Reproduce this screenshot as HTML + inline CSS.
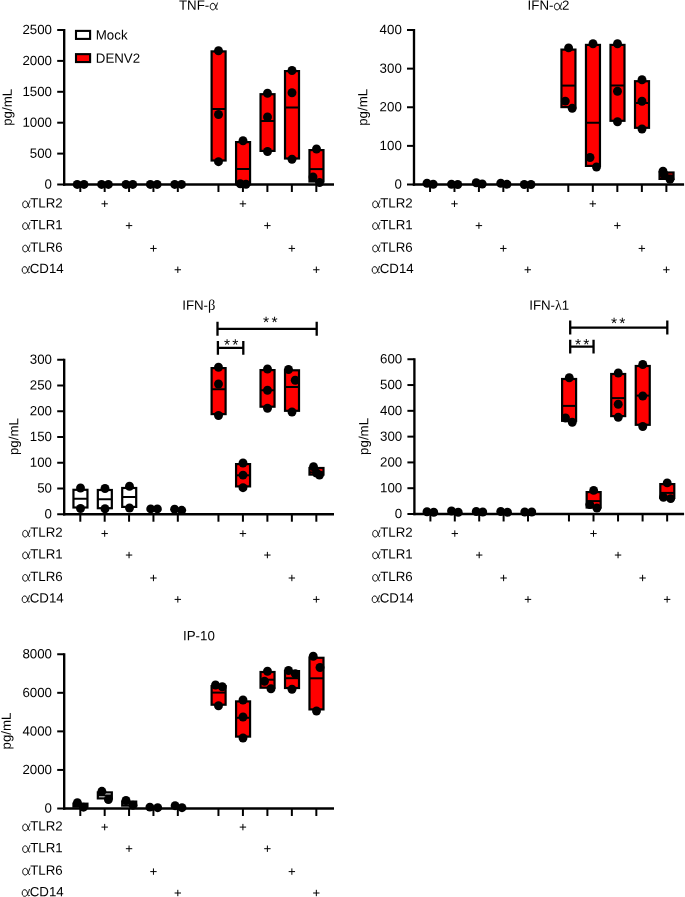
<!DOCTYPE html>
<html><head><meta charset="utf-8"><title>Figure</title>
<style>
html,body{margin:0;padding:0;background:#fff;}
body{width:685px;height:897px;overflow:hidden;font-family:"Liberation Sans", sans-serif;}
svg{display:block;will-change:transform;}
text{fill:#000;}
</style></head><body>
<svg width="685" height="897" viewBox="0 0 685 897">
<rect width="685" height="897" fill="#fff"/>
<line x1="64.2" y1="29.0" x2="64.2" y2="185.675" stroke="#000" stroke-width="2.35"/>
<line x1="63.025000000000006" y1="184.5" x2="334.0" y2="184.5" stroke="#000" stroke-width="2.35"/>
<line x1="57.2" y1="184.5" x2="64.2" y2="184.5" stroke="#000" stroke-width="2.0"/>
<text x="52.00" y="188.60" transform="rotate(0.03 52.00 188.60)" font-size="13.3" font-family='"Liberation Sans", sans-serif' text-anchor="end">0</text>
<line x1="57.2" y1="153.6" x2="64.2" y2="153.6" stroke="#000" stroke-width="2.0"/>
<text x="52.00" y="157.70" transform="rotate(0.03 52.00 157.70)" font-size="13.3" font-family='"Liberation Sans", sans-serif' text-anchor="end">500</text>
<line x1="57.2" y1="122.7" x2="64.2" y2="122.7" stroke="#000" stroke-width="2.0"/>
<text x="52.00" y="126.80" transform="rotate(0.03 52.00 126.80)" font-size="13.3" font-family='"Liberation Sans", sans-serif' text-anchor="end">1000</text>
<line x1="57.2" y1="91.8" x2="64.2" y2="91.8" stroke="#000" stroke-width="2.0"/>
<text x="52.00" y="95.90" transform="rotate(0.03 52.00 95.90)" font-size="13.3" font-family='"Liberation Sans", sans-serif' text-anchor="end">1500</text>
<line x1="57.2" y1="60.900000000000006" x2="64.2" y2="60.900000000000006" stroke="#000" stroke-width="2.0"/>
<text x="52.00" y="65.00" transform="rotate(0.03 52.00 65.00)" font-size="13.3" font-family='"Liberation Sans", sans-serif' text-anchor="end">2000</text>
<line x1="57.2" y1="30.0" x2="64.2" y2="30.0" stroke="#000" stroke-width="2.0"/>
<text x="52.00" y="34.10" transform="rotate(0.03 52.00 34.10)" font-size="13.3" font-family='"Liberation Sans", sans-serif' text-anchor="end">2500</text>
<line x1="80.3" y1="184.5" x2="80.3" y2="191.97500000000002" stroke="#000" stroke-width="2.0"/>
<line x1="104.67999999999999" y1="184.5" x2="104.67999999999999" y2="191.97500000000002" stroke="#000" stroke-width="2.0"/>
<line x1="129.06" y1="184.5" x2="129.06" y2="191.97500000000002" stroke="#000" stroke-width="2.0"/>
<line x1="153.44" y1="184.5" x2="153.44" y2="191.97500000000002" stroke="#000" stroke-width="2.0"/>
<line x1="177.82" y1="184.5" x2="177.82" y2="191.97500000000002" stroke="#000" stroke-width="2.0"/>
<line x1="218.45" y1="184.5" x2="218.45" y2="191.97500000000002" stroke="#000" stroke-width="2.0"/>
<line x1="242.92" y1="184.5" x2="242.92" y2="191.97500000000002" stroke="#000" stroke-width="2.0"/>
<line x1="267.39" y1="184.5" x2="267.39" y2="191.97500000000002" stroke="#000" stroke-width="2.0"/>
<line x1="291.86" y1="184.5" x2="291.86" y2="191.97500000000002" stroke="#000" stroke-width="2.0"/>
<line x1="316.33" y1="184.5" x2="316.33" y2="191.97500000000002" stroke="#000" stroke-width="2.0"/>
<text x="179.00" y="9.70" transform="rotate(0.03 179.00 9.70)" font-size="13.3" font-family='"Liberation Sans", sans-serif'>TNF-</text>
<path transform="translate(209.78125,9.7) scale(0.95,0.94)" d="M8.1,-7.2 C7.3,-4.5 5.8,0.2 3.2,0.2 C1.2,0.2 0.5,-1.6 0.5,-3.4 C0.5,-5.4 1.6,-6.9 3.4,-6.9 C5.4,-6.9 6.0,-3.5 6.5,-1.6 C6.8,-0.4 7.3,0.3 8.2,-0.6" fill="none" stroke="#000" stroke-width="1.0" stroke-linecap="round" stroke-linejoin="round"/>
<text transform="translate(11.8,107.3) rotate(-89.97)" font-size="13.3" font-family='"Liberation Sans", sans-serif' text-anchor="middle">pg/mL</text>
<path transform="translate(22.2,207.55) scale(0.95,0.94)" d="M8.1,-7.2 C7.3,-4.5 5.8,0.2 3.2,0.2 C1.2,0.2 0.5,-1.6 0.5,-3.4 C0.5,-5.4 1.6,-6.9 3.4,-6.9 C5.4,-6.9 6.0,-3.5 6.5,-1.6 C6.8,-0.4 7.3,0.3 8.2,-0.6" fill="none" stroke="#000" stroke-width="1.0" stroke-linecap="round" stroke-linejoin="round"/><text x="30.20" y="207.55" transform="rotate(0.03 30.20 207.55)" font-size="13.3" font-family='"Liberation Sans", sans-serif'>TLR2</text>
<path d="M101.47999999999999 203.8H107.88M104.67999999999999 200.60000000000002V207.0" stroke="#000" stroke-width="1.0" fill="none"/>
<path d="M239.72 203.8H246.11999999999998M242.92 200.60000000000002V207.0" stroke="#000" stroke-width="1.0" fill="none"/>
<path transform="translate(22.2,229.25) scale(0.95,0.94)" d="M8.1,-7.2 C7.3,-4.5 5.8,0.2 3.2,0.2 C1.2,0.2 0.5,-1.6 0.5,-3.4 C0.5,-5.4 1.6,-6.9 3.4,-6.9 C5.4,-6.9 6.0,-3.5 6.5,-1.6 C6.8,-0.4 7.3,0.3 8.2,-0.6" fill="none" stroke="#000" stroke-width="1.0" stroke-linecap="round" stroke-linejoin="round"/><text x="30.20" y="229.25" transform="rotate(0.03 30.20 229.25)" font-size="13.3" font-family='"Liberation Sans", sans-serif'>TLR1</text>
<path d="M125.86 225.6H132.26M129.06 222.4V228.79999999999998" stroke="#000" stroke-width="1.0" fill="none"/>
<path d="M264.19 225.6H270.59M267.39 222.4V228.79999999999998" stroke="#000" stroke-width="1.0" fill="none"/>
<path transform="translate(22.2,251.7) scale(0.95,0.94)" d="M8.1,-7.2 C7.3,-4.5 5.8,0.2 3.2,0.2 C1.2,0.2 0.5,-1.6 0.5,-3.4 C0.5,-5.4 1.6,-6.9 3.4,-6.9 C5.4,-6.9 6.0,-3.5 6.5,-1.6 C6.8,-0.4 7.3,0.3 8.2,-0.6" fill="none" stroke="#000" stroke-width="1.0" stroke-linecap="round" stroke-linejoin="round"/><text x="30.20" y="251.70" transform="rotate(0.03 30.20 251.70)" font-size="13.3" font-family='"Liberation Sans", sans-serif'>TLR6</text>
<path d="M150.24 248.45H156.64M153.44 245.25V251.64999999999998" stroke="#000" stroke-width="1.0" fill="none"/>
<path d="M288.66 248.45H295.06M291.86 245.25V251.64999999999998" stroke="#000" stroke-width="1.0" fill="none"/>
<path transform="translate(21.7,273.1) scale(0.95,0.94)" d="M8.1,-7.2 C7.3,-4.5 5.8,0.2 3.2,0.2 C1.2,0.2 0.5,-1.6 0.5,-3.4 C0.5,-5.4 1.6,-6.9 3.4,-6.9 C5.4,-6.9 6.0,-3.5 6.5,-1.6 C6.8,-0.4 7.3,0.3 8.2,-0.6" fill="none" stroke="#000" stroke-width="1.0" stroke-linecap="round" stroke-linejoin="round"/><text x="29.70" y="273.10" transform="rotate(0.03 29.70 273.10)" font-size="13.3" font-family='"Liberation Sans", sans-serif'>CD14</text>
<path d="M174.62 269.75H181.01999999999998M177.82 266.55V272.95" stroke="#000" stroke-width="1.0" fill="none"/>
<path d="M313.13 269.75H319.53M316.33 266.55V272.95" stroke="#000" stroke-width="1.0" fill="none"/>
<rect x="211.6" y="51.40" width="14.0" height="109.10" fill="#ff0000" stroke="#000" stroke-width="2.2"/>
<line x1="211.6" y1="109" x2="225.6" y2="109" stroke="#000" stroke-width="2.0"/>
<rect x="236.07" y="142.10" width="14.0" height="42.20" fill="#ff0000" stroke="#000" stroke-width="2.2"/>
<line x1="236.07" y1="169" x2="250.07" y2="169" stroke="#000" stroke-width="2.0"/>
<rect x="260.53999999999996" y="94.20" width="14.0" height="56.70" fill="#ff0000" stroke="#000" stroke-width="2.2"/>
<line x1="260.53999999999996" y1="121" x2="274.53999999999996" y2="121" stroke="#000" stroke-width="2.0"/>
<rect x="285.01" y="71.10" width="14.0" height="87.40" fill="#ff0000" stroke="#000" stroke-width="2.2"/>
<line x1="285.01" y1="107.5" x2="299.01" y2="107.5" stroke="#000" stroke-width="2.0"/>
<rect x="309.47999999999996" y="150.10" width="14.0" height="31.40" fill="#ff0000" stroke="#000" stroke-width="2.2"/>
<line x1="309.47999999999996" y1="169.1" x2="323.47999999999996" y2="169.1" stroke="#000" stroke-width="2.0"/>
<circle cx="77.2" cy="184.45" r="4.45" fill="#000"/>
<circle cx="84.0" cy="184.45" r="4.45" fill="#000"/>
<circle cx="101.58" cy="184.45" r="4.45" fill="#000"/>
<circle cx="108.38" cy="184.45" r="4.45" fill="#000"/>
<circle cx="125.96000000000001" cy="184.45" r="4.45" fill="#000"/>
<circle cx="132.76" cy="184.45" r="4.45" fill="#000"/>
<circle cx="150.34" cy="184.45" r="4.45" fill="#000"/>
<circle cx="157.14" cy="184.45" r="4.45" fill="#000"/>
<circle cx="174.72" cy="184.45" r="4.45" fill="#000"/>
<circle cx="181.51999999999998" cy="184.45" r="4.45" fill="#000"/>
<circle cx="218.5" cy="50.75" r="4.45" fill="#000"/>
<circle cx="218.5" cy="114.5" r="4.45" fill="#000"/>
<circle cx="218.5" cy="161.7" r="4.45" fill="#000"/>
<circle cx="243" cy="140.75" r="4.45" fill="#000"/>
<circle cx="240.25" cy="183.75" r="4.45" fill="#000"/>
<circle cx="246" cy="184.25" r="4.45" fill="#000"/>
<circle cx="267.5" cy="93.25" r="4.45" fill="#000"/>
<circle cx="267.5" cy="117" r="4.45" fill="#000"/>
<circle cx="267.5" cy="151.5" r="4.45" fill="#000"/>
<circle cx="292" cy="70.5" r="4.45" fill="#000"/>
<circle cx="292" cy="92.75" r="4.45" fill="#000"/>
<circle cx="292" cy="159.25" r="4.45" fill="#000"/>
<circle cx="316.5" cy="149" r="4.45" fill="#000"/>
<circle cx="313" cy="177" r="4.45" fill="#000"/>
<circle cx="319.5" cy="182.5" r="4.45" fill="#000"/>
<rect x="76.0" y="30.9" width="14.1" height="8.0" fill="#fff" stroke="#000" stroke-width="2.1"/>
<text x="95.80" y="39.50" transform="rotate(0.03 95.80 39.50)" font-size="13.3" font-family='"Liberation Sans", sans-serif'>Mock</text>
<rect x="76.0" y="54.15" width="14.1" height="7.9" fill="#ff0000" stroke="#000" stroke-width="2.1"/>
<text x="95.80" y="62.80" transform="rotate(0.03 95.80 62.80)" font-size="13.3" font-family='"Liberation Sans", sans-serif'>DENV2</text>
<line x1="414.0" y1="29.0" x2="414.0" y2="185.675" stroke="#000" stroke-width="2.35"/>
<line x1="412.825" y1="184.5" x2="684.1" y2="184.5" stroke="#000" stroke-width="2.35"/>
<line x1="407.0" y1="184.5" x2="414.0" y2="184.5" stroke="#000" stroke-width="2.0"/>
<text x="401.80" y="188.60" transform="rotate(0.03 401.80 188.60)" font-size="13.3" font-family='"Liberation Sans", sans-serif' text-anchor="end">0</text>
<line x1="407.0" y1="145.875" x2="414.0" y2="145.875" stroke="#000" stroke-width="2.0"/>
<text x="401.80" y="149.97" transform="rotate(0.03 401.80 149.97)" font-size="13.3" font-family='"Liberation Sans", sans-serif' text-anchor="end">100</text>
<line x1="407.0" y1="107.25" x2="414.0" y2="107.25" stroke="#000" stroke-width="2.0"/>
<text x="401.80" y="111.35" transform="rotate(0.03 401.80 111.35)" font-size="13.3" font-family='"Liberation Sans", sans-serif' text-anchor="end">200</text>
<line x1="407.0" y1="68.625" x2="414.0" y2="68.625" stroke="#000" stroke-width="2.0"/>
<text x="401.80" y="72.72" transform="rotate(0.03 401.80 72.72)" font-size="13.3" font-family='"Liberation Sans", sans-serif' text-anchor="end">300</text>
<line x1="407.0" y1="30.0" x2="414.0" y2="30.0" stroke="#000" stroke-width="2.0"/>
<text x="401.80" y="34.10" transform="rotate(0.03 401.80 34.10)" font-size="13.3" font-family='"Liberation Sans", sans-serif' text-anchor="end">400</text>
<line x1="430.05" y1="184.5" x2="430.05" y2="191.97500000000002" stroke="#000" stroke-width="2.0"/>
<line x1="454.48" y1="184.5" x2="454.48" y2="191.97500000000002" stroke="#000" stroke-width="2.0"/>
<line x1="478.91" y1="184.5" x2="478.91" y2="191.97500000000002" stroke="#000" stroke-width="2.0"/>
<line x1="503.34000000000003" y1="184.5" x2="503.34000000000003" y2="191.97500000000002" stroke="#000" stroke-width="2.0"/>
<line x1="527.77" y1="184.5" x2="527.77" y2="191.97500000000002" stroke="#000" stroke-width="2.0"/>
<line x1="568.3" y1="184.5" x2="568.3" y2="191.97500000000002" stroke="#000" stroke-width="2.0"/>
<line x1="592.8199999999999" y1="184.5" x2="592.8199999999999" y2="191.97500000000002" stroke="#000" stroke-width="2.0"/>
<line x1="617.3399999999999" y1="184.5" x2="617.3399999999999" y2="191.97500000000002" stroke="#000" stroke-width="2.0"/>
<line x1="641.8599999999999" y1="184.5" x2="641.8599999999999" y2="191.97500000000002" stroke="#000" stroke-width="2.0"/>
<line x1="666.38" y1="184.5" x2="666.38" y2="191.97500000000002" stroke="#000" stroke-width="2.0"/>
<text x="527.60" y="9.70" transform="rotate(0.03 527.60 9.70)" font-size="13.3" font-family='"Liberation Sans", sans-serif'>IFN-</text>
<path transform="translate(553.953125,9.7) scale(0.95,0.94)" d="M8.1,-7.2 C7.3,-4.5 5.8,0.2 3.2,0.2 C1.2,0.2 0.5,-1.6 0.5,-3.4 C0.5,-5.4 1.6,-6.9 3.4,-6.9 C5.4,-6.9 6.0,-3.5 6.5,-1.6 C6.8,-0.4 7.3,0.3 8.2,-0.6" fill="none" stroke="#000" stroke-width="1.0" stroke-linecap="round" stroke-linejoin="round"/>
<text x="562.05" y="9.70" transform="rotate(0.03 562.05 9.70)" font-size="13.3" font-family='"Liberation Sans", sans-serif'>2</text>
<text transform="translate(367.2,107.3) rotate(-89.97)" font-size="13.3" font-family='"Liberation Sans", sans-serif' text-anchor="middle">pg/mL</text>
<path transform="translate(372.2,207.55) scale(0.95,0.94)" d="M8.1,-7.2 C7.3,-4.5 5.8,0.2 3.2,0.2 C1.2,0.2 0.5,-1.6 0.5,-3.4 C0.5,-5.4 1.6,-6.9 3.4,-6.9 C5.4,-6.9 6.0,-3.5 6.5,-1.6 C6.8,-0.4 7.3,0.3 8.2,-0.6" fill="none" stroke="#000" stroke-width="1.0" stroke-linecap="round" stroke-linejoin="round"/><text x="380.20" y="207.55" transform="rotate(0.03 380.20 207.55)" font-size="13.3" font-family='"Liberation Sans", sans-serif'>TLR2</text>
<path d="M451.28000000000003 203.8H457.68M454.48 200.60000000000002V207.0" stroke="#000" stroke-width="1.0" fill="none"/>
<path d="M589.6199999999999 203.8H596.02M592.8199999999999 200.60000000000002V207.0" stroke="#000" stroke-width="1.0" fill="none"/>
<path transform="translate(372.2,229.25) scale(0.95,0.94)" d="M8.1,-7.2 C7.3,-4.5 5.8,0.2 3.2,0.2 C1.2,0.2 0.5,-1.6 0.5,-3.4 C0.5,-5.4 1.6,-6.9 3.4,-6.9 C5.4,-6.9 6.0,-3.5 6.5,-1.6 C6.8,-0.4 7.3,0.3 8.2,-0.6" fill="none" stroke="#000" stroke-width="1.0" stroke-linecap="round" stroke-linejoin="round"/><text x="380.20" y="229.25" transform="rotate(0.03 380.20 229.25)" font-size="13.3" font-family='"Liberation Sans", sans-serif'>TLR1</text>
<path d="M475.71000000000004 225.6H482.11M478.91 222.4V228.79999999999998" stroke="#000" stroke-width="1.0" fill="none"/>
<path d="M614.1399999999999 225.6H620.54M617.3399999999999 222.4V228.79999999999998" stroke="#000" stroke-width="1.0" fill="none"/>
<path transform="translate(372.2,251.7) scale(0.95,0.94)" d="M8.1,-7.2 C7.3,-4.5 5.8,0.2 3.2,0.2 C1.2,0.2 0.5,-1.6 0.5,-3.4 C0.5,-5.4 1.6,-6.9 3.4,-6.9 C5.4,-6.9 6.0,-3.5 6.5,-1.6 C6.8,-0.4 7.3,0.3 8.2,-0.6" fill="none" stroke="#000" stroke-width="1.0" stroke-linecap="round" stroke-linejoin="round"/><text x="380.20" y="251.70" transform="rotate(0.03 380.20 251.70)" font-size="13.3" font-family='"Liberation Sans", sans-serif'>TLR6</text>
<path d="M500.14000000000004 248.45H506.54M503.34000000000003 245.25V251.64999999999998" stroke="#000" stroke-width="1.0" fill="none"/>
<path d="M638.6599999999999 248.45H645.06M641.8599999999999 245.25V251.64999999999998" stroke="#000" stroke-width="1.0" fill="none"/>
<path transform="translate(371.7,273.1) scale(0.95,0.94)" d="M8.1,-7.2 C7.3,-4.5 5.8,0.2 3.2,0.2 C1.2,0.2 0.5,-1.6 0.5,-3.4 C0.5,-5.4 1.6,-6.9 3.4,-6.9 C5.4,-6.9 6.0,-3.5 6.5,-1.6 C6.8,-0.4 7.3,0.3 8.2,-0.6" fill="none" stroke="#000" stroke-width="1.0" stroke-linecap="round" stroke-linejoin="round"/><text x="379.70" y="273.10" transform="rotate(0.03 379.70 273.10)" font-size="13.3" font-family='"Liberation Sans", sans-serif'>CD14</text>
<path d="M524.5699999999999 269.75H530.97M527.77 266.55V272.95" stroke="#000" stroke-width="1.0" fill="none"/>
<path d="M663.18 269.75H669.58M666.38 266.55V272.95" stroke="#000" stroke-width="1.0" fill="none"/>
<rect x="561.4499999999999" y="49.60" width="14.0" height="57.50" fill="#ff0000" stroke="#000" stroke-width="2.2"/>
<line x1="561.4499999999999" y1="85.6" x2="575.4499999999999" y2="85.6" stroke="#000" stroke-width="2.0"/>
<rect x="585.9699999999999" y="44.90" width="14.0" height="121.00" fill="#ff0000" stroke="#000" stroke-width="2.2"/>
<line x1="585.9699999999999" y1="122.75" x2="599.9699999999999" y2="122.75" stroke="#000" stroke-width="2.0"/>
<rect x="610.4899999999999" y="44.90" width="14.0" height="75.90" fill="#ff0000" stroke="#000" stroke-width="2.2"/>
<line x1="610.4899999999999" y1="85.5" x2="624.4899999999999" y2="85.5" stroke="#000" stroke-width="2.0"/>
<rect x="635.0099999999999" y="81.20" width="14.0" height="46.60" fill="#ff0000" stroke="#000" stroke-width="2.2"/>
<line x1="635.0099999999999" y1="103" x2="649.0099999999999" y2="103" stroke="#000" stroke-width="2.0"/>
<rect x="659.53" y="172.50" width="14.0" height="6.40" fill="#ff0000" stroke="#000" stroke-width="2.2"/>
<line x1="659.53" y1="175.5" x2="673.53" y2="175.5" stroke="#000" stroke-width="2.0"/>
<circle cx="427" cy="183.25" r="4.45" fill="#000"/>
<circle cx="433.25" cy="184.25" r="4.45" fill="#000"/>
<circle cx="451.5" cy="184.25" r="4.45" fill="#000"/>
<circle cx="457.75" cy="184.5" r="4.45" fill="#000"/>
<circle cx="476.25" cy="182.75" r="4.45" fill="#000"/>
<circle cx="482.25" cy="184" r="4.45" fill="#000"/>
<circle cx="500.75" cy="183.25" r="4.45" fill="#000"/>
<circle cx="507" cy="184.25" r="4.45" fill="#000"/>
<circle cx="524.25" cy="184.5" r="4.45" fill="#000"/>
<circle cx="531" cy="184.5" r="4.45" fill="#000"/>
<circle cx="568.6" cy="47.9" r="4.45" fill="#000"/>
<circle cx="565.3" cy="101.1" r="4.45" fill="#000"/>
<circle cx="572.2" cy="108.3" r="4.45" fill="#000"/>
<circle cx="593" cy="43.75" r="4.45" fill="#000"/>
<circle cx="590" cy="157.5" r="4.45" fill="#000"/>
<circle cx="596.5" cy="167" r="4.45" fill="#000"/>
<circle cx="617.5" cy="43.75" r="4.45" fill="#000"/>
<circle cx="617.5" cy="91.25" r="4.45" fill="#000"/>
<circle cx="617.5" cy="121.75" r="4.45" fill="#000"/>
<circle cx="642" cy="79.75" r="4.45" fill="#000"/>
<circle cx="642" cy="101.25" r="4.45" fill="#000"/>
<circle cx="642" cy="129" r="4.45" fill="#000"/>
<circle cx="663" cy="171.25" r="4.45" fill="#000"/>
<circle cx="664" cy="174.25" r="4.45" fill="#000"/>
<circle cx="670" cy="179.25" r="4.45" fill="#000"/>
<line x1="64.2" y1="358.75" x2="64.2" y2="515.425" stroke="#000" stroke-width="2.35"/>
<line x1="63.025000000000006" y1="514.25" x2="334.0" y2="514.25" stroke="#000" stroke-width="2.35"/>
<line x1="57.2" y1="514.25" x2="64.2" y2="514.25" stroke="#000" stroke-width="2.0"/>
<text x="52.00" y="518.35" transform="rotate(0.03 52.00 518.35)" font-size="13.3" font-family='"Liberation Sans", sans-serif' text-anchor="end">0</text>
<line x1="57.2" y1="488.5" x2="64.2" y2="488.5" stroke="#000" stroke-width="2.0"/>
<text x="52.00" y="492.60" transform="rotate(0.03 52.00 492.60)" font-size="13.3" font-family='"Liberation Sans", sans-serif' text-anchor="end">50</text>
<line x1="57.2" y1="462.75" x2="64.2" y2="462.75" stroke="#000" stroke-width="2.0"/>
<text x="52.00" y="466.85" transform="rotate(0.03 52.00 466.85)" font-size="13.3" font-family='"Liberation Sans", sans-serif' text-anchor="end">100</text>
<line x1="57.2" y1="437.0" x2="64.2" y2="437.0" stroke="#000" stroke-width="2.0"/>
<text x="52.00" y="441.10" transform="rotate(0.03 52.00 441.10)" font-size="13.3" font-family='"Liberation Sans", sans-serif' text-anchor="end">150</text>
<line x1="57.2" y1="411.25" x2="64.2" y2="411.25" stroke="#000" stroke-width="2.0"/>
<text x="52.00" y="415.35" transform="rotate(0.03 52.00 415.35)" font-size="13.3" font-family='"Liberation Sans", sans-serif' text-anchor="end">200</text>
<line x1="57.2" y1="385.5" x2="64.2" y2="385.5" stroke="#000" stroke-width="2.0"/>
<text x="52.00" y="389.60" transform="rotate(0.03 52.00 389.60)" font-size="13.3" font-family='"Liberation Sans", sans-serif' text-anchor="end">250</text>
<line x1="57.2" y1="359.75" x2="64.2" y2="359.75" stroke="#000" stroke-width="2.0"/>
<text x="52.00" y="363.85" transform="rotate(0.03 52.00 363.85)" font-size="13.3" font-family='"Liberation Sans", sans-serif' text-anchor="end">300</text>
<line x1="80.3" y1="514.25" x2="80.3" y2="521.7249999999999" stroke="#000" stroke-width="2.0"/>
<line x1="104.67999999999999" y1="514.25" x2="104.67999999999999" y2="521.7249999999999" stroke="#000" stroke-width="2.0"/>
<line x1="129.06" y1="514.25" x2="129.06" y2="521.7249999999999" stroke="#000" stroke-width="2.0"/>
<line x1="153.44" y1="514.25" x2="153.44" y2="521.7249999999999" stroke="#000" stroke-width="2.0"/>
<line x1="177.82" y1="514.25" x2="177.82" y2="521.7249999999999" stroke="#000" stroke-width="2.0"/>
<line x1="218.45" y1="514.25" x2="218.45" y2="521.7249999999999" stroke="#000" stroke-width="2.0"/>
<line x1="242.92" y1="514.25" x2="242.92" y2="521.7249999999999" stroke="#000" stroke-width="2.0"/>
<line x1="267.39" y1="514.25" x2="267.39" y2="521.7249999999999" stroke="#000" stroke-width="2.0"/>
<line x1="291.86" y1="514.25" x2="291.86" y2="521.7249999999999" stroke="#000" stroke-width="2.0"/>
<line x1="316.33" y1="514.25" x2="316.33" y2="521.7249999999999" stroke="#000" stroke-width="2.0"/>
<text x="182.20" y="309.80" transform="rotate(0.03 182.20 309.80)" font-size="13.3" font-family='"Liberation Sans", sans-serif'>IFN-<tspan font-family='"Liberation Serif", serif' font-size="14.5">β</tspan></text>
<text transform="translate(18.3,436.6) rotate(-89.97)" font-size="13.3" font-family='"Liberation Sans", sans-serif' text-anchor="middle">pg/mL</text>
<path transform="translate(22.2,536.85) scale(0.95,0.94)" d="M8.1,-7.2 C7.3,-4.5 5.8,0.2 3.2,0.2 C1.2,0.2 0.5,-1.6 0.5,-3.4 C0.5,-5.4 1.6,-6.9 3.4,-6.9 C5.4,-6.9 6.0,-3.5 6.5,-1.6 C6.8,-0.4 7.3,0.3 8.2,-0.6" fill="none" stroke="#000" stroke-width="1.0" stroke-linecap="round" stroke-linejoin="round"/><text x="30.20" y="536.85" transform="rotate(0.03 30.20 536.85)" font-size="13.3" font-family='"Liberation Sans", sans-serif'>TLR2</text>
<path d="M101.47999999999999 533.55H107.88M104.67999999999999 530.3499999999999V536.75" stroke="#000" stroke-width="1.0" fill="none"/>
<path d="M239.72 533.55H246.11999999999998M242.92 530.3499999999999V536.75" stroke="#000" stroke-width="1.0" fill="none"/>
<path transform="translate(22.2,558.55) scale(0.95,0.94)" d="M8.1,-7.2 C7.3,-4.5 5.8,0.2 3.2,0.2 C1.2,0.2 0.5,-1.6 0.5,-3.4 C0.5,-5.4 1.6,-6.9 3.4,-6.9 C5.4,-6.9 6.0,-3.5 6.5,-1.6 C6.8,-0.4 7.3,0.3 8.2,-0.6" fill="none" stroke="#000" stroke-width="1.0" stroke-linecap="round" stroke-linejoin="round"/><text x="30.20" y="558.55" transform="rotate(0.03 30.20 558.55)" font-size="13.3" font-family='"Liberation Sans", sans-serif'>TLR1</text>
<path d="M125.86 555.05H132.26M129.06 551.8499999999999V558.25" stroke="#000" stroke-width="1.0" fill="none"/>
<path d="M264.19 555.05H270.59M267.39 551.8499999999999V558.25" stroke="#000" stroke-width="1.0" fill="none"/>
<path transform="translate(22.2,581.0) scale(0.95,0.94)" d="M8.1,-7.2 C7.3,-4.5 5.8,0.2 3.2,0.2 C1.2,0.2 0.5,-1.6 0.5,-3.4 C0.5,-5.4 1.6,-6.9 3.4,-6.9 C5.4,-6.9 6.0,-3.5 6.5,-1.6 C6.8,-0.4 7.3,0.3 8.2,-0.6" fill="none" stroke="#000" stroke-width="1.0" stroke-linecap="round" stroke-linejoin="round"/><text x="30.20" y="581.00" transform="rotate(0.03 30.20 581.00)" font-size="13.3" font-family='"Liberation Sans", sans-serif'>TLR6</text>
<path d="M150.24 578.0H156.64M153.44 574.8V581.2" stroke="#000" stroke-width="1.0" fill="none"/>
<path d="M288.66 578.0H295.06M291.86 574.8V581.2" stroke="#000" stroke-width="1.0" fill="none"/>
<path transform="translate(21.7,602.4) scale(0.95,0.94)" d="M8.1,-7.2 C7.3,-4.5 5.8,0.2 3.2,0.2 C1.2,0.2 0.5,-1.6 0.5,-3.4 C0.5,-5.4 1.6,-6.9 3.4,-6.9 C5.4,-6.9 6.0,-3.5 6.5,-1.6 C6.8,-0.4 7.3,0.3 8.2,-0.6" fill="none" stroke="#000" stroke-width="1.0" stroke-linecap="round" stroke-linejoin="round"/><text x="29.70" y="602.40" transform="rotate(0.03 29.70 602.40)" font-size="13.3" font-family='"Liberation Sans", sans-serif'>CD14</text>
<path d="M174.62 599.4H181.01999999999998M177.82 596.1999999999999V602.6" stroke="#000" stroke-width="1.0" fill="none"/>
<path d="M313.13 599.4H319.53M316.33 596.1999999999999V602.6" stroke="#000" stroke-width="1.0" fill="none"/>
<rect x="73.45" y="489.80" width="14.0" height="17.70" fill="#ffffff" stroke="#000" stroke-width="2.2"/>
<line x1="73.45" y1="498.75" x2="87.45" y2="498.75" stroke="#000" stroke-width="2.0"/>
<rect x="97.83" y="490.00" width="14.0" height="18.20" fill="#ffffff" stroke="#000" stroke-width="2.2"/>
<line x1="97.83" y1="499.25" x2="111.83" y2="499.25" stroke="#000" stroke-width="2.0"/>
<rect x="122.21000000000001" y="488.00" width="14.0" height="18.90" fill="#ffffff" stroke="#000" stroke-width="2.2"/>
<line x1="122.21000000000001" y1="497" x2="136.21" y2="497" stroke="#000" stroke-width="2.0"/>
<rect x="211.6" y="368.10" width="14.0" height="46.00" fill="#ff0000" stroke="#000" stroke-width="2.2"/>
<line x1="211.6" y1="389.25" x2="225.6" y2="389.25" stroke="#000" stroke-width="2.0"/>
<rect x="236.07" y="464.10" width="14.0" height="22.30" fill="#ff0000" stroke="#000" stroke-width="2.2"/>
<line x1="236.07" y1="475.3" x2="250.07" y2="475.3" stroke="#000" stroke-width="2.0"/>
<rect x="260.53999999999996" y="370.10" width="14.0" height="36.60" fill="#ff0000" stroke="#000" stroke-width="2.2"/>
<line x1="260.53999999999996" y1="390.25" x2="274.53999999999996" y2="390.25" stroke="#000" stroke-width="2.0"/>
<rect x="285.01" y="370.30" width="14.0" height="40.50" fill="#ff0000" stroke="#000" stroke-width="2.2"/>
<line x1="285.01" y1="387" x2="299.01" y2="387" stroke="#000" stroke-width="2.0"/>
<rect x="309.47999999999996" y="468.00" width="14.0" height="6.60" fill="#ff0000" stroke="#000" stroke-width="2.2"/>
<line x1="309.47999999999996" y1="472.3" x2="323.47999999999996" y2="472.3" stroke="#000" stroke-width="2.0"/>
<circle cx="80.5" cy="488" r="4.45" fill="#000"/>
<circle cx="80.5" cy="508.5" r="4.45" fill="#000"/>
<circle cx="105" cy="488.5" r="4.45" fill="#000"/>
<circle cx="105" cy="508.75" r="4.45" fill="#000"/>
<circle cx="129.5" cy="486.25" r="4.45" fill="#000"/>
<circle cx="129.5" cy="508" r="4.45" fill="#000"/>
<circle cx="150.7" cy="508.9" r="4.45" fill="#000"/>
<circle cx="157.4" cy="508.9" r="4.45" fill="#000"/>
<circle cx="174.6" cy="509.2" r="4.45" fill="#000"/>
<circle cx="181.7" cy="510.3" r="4.45" fill="#000"/>
<circle cx="218.5" cy="367.25" r="4.45" fill="#000"/>
<circle cx="218.5" cy="384" r="4.45" fill="#000"/>
<circle cx="218.5" cy="415.5" r="4.45" fill="#000"/>
<circle cx="243" cy="463.0" r="4.45" fill="#000"/>
<circle cx="243" cy="475.1" r="4.45" fill="#000"/>
<circle cx="243" cy="487.7" r="4.45" fill="#000"/>
<circle cx="267.5" cy="369" r="4.45" fill="#000"/>
<circle cx="267.5" cy="390.25" r="4.45" fill="#000"/>
<circle cx="267.5" cy="408.25" r="4.45" fill="#000"/>
<circle cx="288.5" cy="369.5" r="4.45" fill="#000"/>
<circle cx="295.25" cy="380.25" r="4.45" fill="#000"/>
<circle cx="292" cy="412" r="4.45" fill="#000"/>
<circle cx="313.5" cy="466.75" r="4.45" fill="#000"/>
<circle cx="316.5" cy="473" r="4.45" fill="#000"/>
<circle cx="319.5" cy="475" r="4.45" fill="#000"/>
<path d="M217.5 328.8H316.7M217.5 321.85V335.75M316.7 321.85V335.75" stroke="#000" stroke-width="2.3" fill="none"/>
<text x="266.15" y="327.60" transform="rotate(0.03 266.15 327.60)" font-size="15.7" font-family='"Liberation Sans", sans-serif' text-anchor="middle">*</text>
<text x="274.45" y="327.60" transform="rotate(0.03 274.45 327.60)" font-size="15.7" font-family='"Liberation Sans", sans-serif' text-anchor="middle">*</text>
<path d="M217.9 347.85H243.3M217.9 340.90000000000003V354.8M243.3 340.90000000000003V354.8" stroke="#000" stroke-width="2.3" fill="none"/>
<text x="227.10" y="350.00" transform="rotate(0.03 227.10 350.00)" font-size="15.7" font-family='"Liberation Sans", sans-serif' text-anchor="middle">*</text>
<text x="235.40" y="350.00" transform="rotate(0.03 235.40 350.00)" font-size="15.7" font-family='"Liberation Sans", sans-serif' text-anchor="middle">*</text>
<line x1="414.4" y1="358.25" x2="414.4" y2="515.175" stroke="#000" stroke-width="2.35"/>
<line x1="413.22499999999997" y1="514" x2="684.1" y2="514" stroke="#000" stroke-width="2.35"/>
<line x1="407.4" y1="514.0" x2="414.4" y2="514.0" stroke="#000" stroke-width="2.0"/>
<text x="402.20" y="518.10" transform="rotate(0.03 402.20 518.10)" font-size="13.3" font-family='"Liberation Sans", sans-serif' text-anchor="end">0</text>
<line x1="407.4" y1="488.2083333333333" x2="414.4" y2="488.2083333333333" stroke="#000" stroke-width="2.0"/>
<text x="402.20" y="492.31" transform="rotate(0.03 402.20 492.31)" font-size="13.3" font-family='"Liberation Sans", sans-serif' text-anchor="end">100</text>
<line x1="407.4" y1="462.4166666666667" x2="414.4" y2="462.4166666666667" stroke="#000" stroke-width="2.0"/>
<text x="402.20" y="466.52" transform="rotate(0.03 402.20 466.52)" font-size="13.3" font-family='"Liberation Sans", sans-serif' text-anchor="end">200</text>
<line x1="407.4" y1="436.625" x2="414.4" y2="436.625" stroke="#000" stroke-width="2.0"/>
<text x="402.20" y="440.73" transform="rotate(0.03 402.20 440.73)" font-size="13.3" font-family='"Liberation Sans", sans-serif' text-anchor="end">300</text>
<line x1="407.4" y1="410.8333333333333" x2="414.4" y2="410.8333333333333" stroke="#000" stroke-width="2.0"/>
<text x="402.20" y="414.93" transform="rotate(0.03 402.20 414.93)" font-size="13.3" font-family='"Liberation Sans", sans-serif' text-anchor="end">400</text>
<line x1="407.4" y1="385.04166666666663" x2="414.4" y2="385.04166666666663" stroke="#000" stroke-width="2.0"/>
<text x="402.20" y="389.14" transform="rotate(0.03 402.20 389.14)" font-size="13.3" font-family='"Liberation Sans", sans-serif' text-anchor="end">500</text>
<line x1="407.4" y1="359.25" x2="414.4" y2="359.25" stroke="#000" stroke-width="2.0"/>
<text x="402.20" y="363.35" transform="rotate(0.03 402.20 363.35)" font-size="13.3" font-family='"Liberation Sans", sans-serif' text-anchor="end">600</text>
<line x1="430.4" y1="514" x2="430.4" y2="521.4749999999999" stroke="#000" stroke-width="2.0"/>
<line x1="454.79999999999995" y1="514" x2="454.79999999999995" y2="521.4749999999999" stroke="#000" stroke-width="2.0"/>
<line x1="479.2" y1="514" x2="479.2" y2="521.4749999999999" stroke="#000" stroke-width="2.0"/>
<line x1="503.59999999999997" y1="514" x2="503.59999999999997" y2="521.4749999999999" stroke="#000" stroke-width="2.0"/>
<line x1="528.0" y1="514" x2="528.0" y2="521.4749999999999" stroke="#000" stroke-width="2.0"/>
<line x1="568.95" y1="514" x2="568.95" y2="521.4749999999999" stroke="#000" stroke-width="2.0"/>
<line x1="593.5" y1="514" x2="593.5" y2="521.4749999999999" stroke="#000" stroke-width="2.0"/>
<line x1="618.0500000000001" y1="514" x2="618.0500000000001" y2="521.4749999999999" stroke="#000" stroke-width="2.0"/>
<line x1="642.6" y1="514" x2="642.6" y2="521.4749999999999" stroke="#000" stroke-width="2.0"/>
<line x1="667.1500000000001" y1="514" x2="667.1500000000001" y2="521.4749999999999" stroke="#000" stroke-width="2.0"/>
<text x="529.20" y="309.80" transform="rotate(0.03 529.20 309.80)" font-size="13.3" font-family='"Liberation Sans", sans-serif'>IFN-<tspan font-family='"Liberation Serif", serif' font-size="14">λ</tspan>1</text>
<text transform="translate(368.3,436.4) rotate(-89.97)" font-size="13.3" font-family='"Liberation Sans", sans-serif' text-anchor="middle">pg/mL</text>
<path transform="translate(372.2,536.85) scale(0.95,0.94)" d="M8.1,-7.2 C7.3,-4.5 5.8,0.2 3.2,0.2 C1.2,0.2 0.5,-1.6 0.5,-3.4 C0.5,-5.4 1.6,-6.9 3.4,-6.9 C5.4,-6.9 6.0,-3.5 6.5,-1.6 C6.8,-0.4 7.3,0.3 8.2,-0.6" fill="none" stroke="#000" stroke-width="1.0" stroke-linecap="round" stroke-linejoin="round"/><text x="380.20" y="536.85" transform="rotate(0.03 380.20 536.85)" font-size="13.3" font-family='"Liberation Sans", sans-serif'>TLR2</text>
<path d="M451.59999999999997 533.55H457.99999999999994M454.79999999999995 530.3499999999999V536.75" stroke="#000" stroke-width="1.0" fill="none"/>
<path d="M590.3 533.55H596.7M593.5 530.3499999999999V536.75" stroke="#000" stroke-width="1.0" fill="none"/>
<path transform="translate(372.2,558.55) scale(0.95,0.94)" d="M8.1,-7.2 C7.3,-4.5 5.8,0.2 3.2,0.2 C1.2,0.2 0.5,-1.6 0.5,-3.4 C0.5,-5.4 1.6,-6.9 3.4,-6.9 C5.4,-6.9 6.0,-3.5 6.5,-1.6 C6.8,-0.4 7.3,0.3 8.2,-0.6" fill="none" stroke="#000" stroke-width="1.0" stroke-linecap="round" stroke-linejoin="round"/><text x="380.20" y="558.55" transform="rotate(0.03 380.20 558.55)" font-size="13.3" font-family='"Liberation Sans", sans-serif'>TLR1</text>
<path d="M476.0 555.05H482.4M479.2 551.8499999999999V558.25" stroke="#000" stroke-width="1.0" fill="none"/>
<path d="M614.85 555.05H621.2500000000001M618.0500000000001 551.8499999999999V558.25" stroke="#000" stroke-width="1.0" fill="none"/>
<path transform="translate(372.2,581.0) scale(0.95,0.94)" d="M8.1,-7.2 C7.3,-4.5 5.8,0.2 3.2,0.2 C1.2,0.2 0.5,-1.6 0.5,-3.4 C0.5,-5.4 1.6,-6.9 3.4,-6.9 C5.4,-6.9 6.0,-3.5 6.5,-1.6 C6.8,-0.4 7.3,0.3 8.2,-0.6" fill="none" stroke="#000" stroke-width="1.0" stroke-linecap="round" stroke-linejoin="round"/><text x="380.20" y="581.00" transform="rotate(0.03 380.20 581.00)" font-size="13.3" font-family='"Liberation Sans", sans-serif'>TLR6</text>
<path d="M500.4 578.0H506.79999999999995M503.59999999999997 574.8V581.2" stroke="#000" stroke-width="1.0" fill="none"/>
<path d="M639.4 578.0H645.8000000000001M642.6 574.8V581.2" stroke="#000" stroke-width="1.0" fill="none"/>
<path transform="translate(371.7,602.4) scale(0.95,0.94)" d="M8.1,-7.2 C7.3,-4.5 5.8,0.2 3.2,0.2 C1.2,0.2 0.5,-1.6 0.5,-3.4 C0.5,-5.4 1.6,-6.9 3.4,-6.9 C5.4,-6.9 6.0,-3.5 6.5,-1.6 C6.8,-0.4 7.3,0.3 8.2,-0.6" fill="none" stroke="#000" stroke-width="1.0" stroke-linecap="round" stroke-linejoin="round"/><text x="379.70" y="602.40" transform="rotate(0.03 379.70 602.40)" font-size="13.3" font-family='"Liberation Sans", sans-serif'>CD14</text>
<path d="M524.8 599.4H531.2M528.0 596.1999999999999V602.6" stroke="#000" stroke-width="1.0" fill="none"/>
<path d="M663.95 599.4H670.3500000000001M667.1500000000001 596.1999999999999V602.6" stroke="#000" stroke-width="1.0" fill="none"/>
<rect x="562.1" y="379.00" width="14.0" height="41.80" fill="#ff0000" stroke="#000" stroke-width="2.2"/>
<line x1="562.1" y1="405.9" x2="576.1" y2="405.9" stroke="#000" stroke-width="2.0"/>
<rect x="586.65" y="492.10" width="14.0" height="15.40" fill="#ff0000" stroke="#000" stroke-width="2.2"/>
<line x1="586.65" y1="501.1" x2="600.65" y2="501.1" stroke="#000" stroke-width="2.0"/>
<rect x="611.2" y="374.00" width="14.0" height="42.10" fill="#ff0000" stroke="#000" stroke-width="2.2"/>
<line x1="611.2" y1="398.1" x2="625.2" y2="398.1" stroke="#000" stroke-width="2.0"/>
<rect x="635.75" y="366.00" width="14.0" height="58.80" fill="#ff0000" stroke="#000" stroke-width="2.2"/>
<line x1="635.75" y1="395.6" x2="649.75" y2="395.6" stroke="#000" stroke-width="2.0"/>
<rect x="660.3000000000001" y="484.10" width="14.0" height="13.70" fill="#ff0000" stroke="#000" stroke-width="2.2"/>
<line x1="660.3000000000001" y1="492.9" x2="674.3000000000001" y2="492.9" stroke="#000" stroke-width="2.0"/>
<circle cx="427" cy="511.75" r="4.45" fill="#000"/>
<circle cx="433.75" cy="512.25" r="4.45" fill="#000"/>
<circle cx="451.5" cy="511" r="4.45" fill="#000"/>
<circle cx="458.25" cy="512.25" r="4.45" fill="#000"/>
<circle cx="476.25" cy="511.5" r="4.45" fill="#000"/>
<circle cx="482.75" cy="512" r="4.45" fill="#000"/>
<circle cx="500.75" cy="511.5" r="4.45" fill="#000"/>
<circle cx="507.5" cy="512.25" r="4.45" fill="#000"/>
<circle cx="524.75" cy="512" r="4.45" fill="#000"/>
<circle cx="531.75" cy="512" r="4.45" fill="#000"/>
<circle cx="569.25" cy="377.75" r="4.45" fill="#000"/>
<circle cx="565.5" cy="418" r="4.45" fill="#000"/>
<circle cx="572.25" cy="422.25" r="4.45" fill="#000"/>
<circle cx="593.65" cy="490.4" r="4.45" fill="#000"/>
<circle cx="589.8" cy="504.6" r="4.45" fill="#000"/>
<circle cx="596.9" cy="508.0" r="4.45" fill="#000"/>
<circle cx="618.25" cy="373" r="4.45" fill="#000"/>
<circle cx="618.25" cy="404.25" r="4.45" fill="#000"/>
<circle cx="618.25" cy="417.25" r="4.45" fill="#000"/>
<circle cx="642.75" cy="364.5" r="4.45" fill="#000"/>
<circle cx="642.75" cy="396" r="4.45" fill="#000"/>
<circle cx="642.75" cy="426.5" r="4.45" fill="#000"/>
<circle cx="667.2" cy="482.9" r="4.45" fill="#000"/>
<circle cx="663.45" cy="497.3" r="4.45" fill="#000"/>
<circle cx="670.7" cy="498.6" r="4.45" fill="#000"/>
<path d="M570.2 327.55H667.3M570.2 320.6V334.5M667.3 320.6V334.5" stroke="#000" stroke-width="2.3" fill="none"/>
<text x="613.95" y="328.60" transform="rotate(0.03 613.95 328.60)" font-size="15.7" font-family='"Liberation Sans", sans-serif' text-anchor="middle">*</text>
<text x="622.25" y="328.60" transform="rotate(0.03 622.25 328.60)" font-size="15.7" font-family='"Liberation Sans", sans-serif' text-anchor="middle">*</text>
<path d="M570.2 346.6H593.55M570.2 339.65000000000003V353.55M593.55 339.65000000000003V353.55" stroke="#000" stroke-width="2.3" fill="none"/>
<text x="578.10" y="349.80" transform="rotate(0.03 578.10 349.80)" font-size="15.7" font-family='"Liberation Sans", sans-serif' text-anchor="middle">*</text>
<text x="586.40" y="349.80" transform="rotate(0.03 586.40 349.80)" font-size="15.7" font-family='"Liberation Sans", sans-serif' text-anchor="middle">*</text>
<line x1="64.2" y1="653.25" x2="64.2" y2="809.675" stroke="#000" stroke-width="2.35"/>
<line x1="63.025000000000006" y1="808.5" x2="334.0" y2="808.5" stroke="#000" stroke-width="2.35"/>
<line x1="57.2" y1="808.5" x2="64.2" y2="808.5" stroke="#000" stroke-width="2.0"/>
<text x="52.00" y="812.60" transform="rotate(0.03 52.00 812.60)" font-size="13.3" font-family='"Liberation Sans", sans-serif' text-anchor="end">0</text>
<line x1="57.2" y1="769.9375" x2="64.2" y2="769.9375" stroke="#000" stroke-width="2.0"/>
<text x="52.00" y="774.04" transform="rotate(0.03 52.00 774.04)" font-size="13.3" font-family='"Liberation Sans", sans-serif' text-anchor="end">2000</text>
<line x1="57.2" y1="731.375" x2="64.2" y2="731.375" stroke="#000" stroke-width="2.0"/>
<text x="52.00" y="735.48" transform="rotate(0.03 52.00 735.48)" font-size="13.3" font-family='"Liberation Sans", sans-serif' text-anchor="end">4000</text>
<line x1="57.2" y1="692.8125" x2="64.2" y2="692.8125" stroke="#000" stroke-width="2.0"/>
<text x="52.00" y="696.91" transform="rotate(0.03 52.00 696.91)" font-size="13.3" font-family='"Liberation Sans", sans-serif' text-anchor="end">6000</text>
<line x1="57.2" y1="654.25" x2="64.2" y2="654.25" stroke="#000" stroke-width="2.0"/>
<text x="52.00" y="658.35" transform="rotate(0.03 52.00 658.35)" font-size="13.3" font-family='"Liberation Sans", sans-serif' text-anchor="end">8000</text>
<line x1="80.3" y1="808.5" x2="80.3" y2="815.9749999999999" stroke="#000" stroke-width="2.0"/>
<line x1="104.67999999999999" y1="808.5" x2="104.67999999999999" y2="815.9749999999999" stroke="#000" stroke-width="2.0"/>
<line x1="129.06" y1="808.5" x2="129.06" y2="815.9749999999999" stroke="#000" stroke-width="2.0"/>
<line x1="153.44" y1="808.5" x2="153.44" y2="815.9749999999999" stroke="#000" stroke-width="2.0"/>
<line x1="177.82" y1="808.5" x2="177.82" y2="815.9749999999999" stroke="#000" stroke-width="2.0"/>
<line x1="218.45" y1="808.5" x2="218.45" y2="815.9749999999999" stroke="#000" stroke-width="2.0"/>
<line x1="242.92" y1="808.5" x2="242.92" y2="815.9749999999999" stroke="#000" stroke-width="2.0"/>
<line x1="267.39" y1="808.5" x2="267.39" y2="815.9749999999999" stroke="#000" stroke-width="2.0"/>
<line x1="291.86" y1="808.5" x2="291.86" y2="815.9749999999999" stroke="#000" stroke-width="2.0"/>
<line x1="316.33" y1="808.5" x2="316.33" y2="815.9749999999999" stroke="#000" stroke-width="2.0"/>
<text x="183.00" y="640.30" transform="rotate(0.03 183.00 640.30)" font-size="13.3" font-family='"Liberation Sans", sans-serif'>IP-10</text>
<text transform="translate(10.7,731) rotate(-89.97)" font-size="13.3" font-family='"Liberation Sans", sans-serif' text-anchor="middle">pg/mL</text>
<path transform="translate(22.2,830.6) scale(0.95,0.94)" d="M8.1,-7.2 C7.3,-4.5 5.8,0.2 3.2,0.2 C1.2,0.2 0.5,-1.6 0.5,-3.4 C0.5,-5.4 1.6,-6.9 3.4,-6.9 C5.4,-6.9 6.0,-3.5 6.5,-1.6 C6.8,-0.4 7.3,0.3 8.2,-0.6" fill="none" stroke="#000" stroke-width="1.0" stroke-linecap="round" stroke-linejoin="round"/><text x="30.20" y="830.60" transform="rotate(0.03 30.20 830.60)" font-size="13.3" font-family='"Liberation Sans", sans-serif'>TLR2</text>
<path d="M101.47999999999999 827.1H107.88M104.67999999999999 823.9V830.3000000000001" stroke="#000" stroke-width="1.0" fill="none"/>
<path d="M239.72 827.1H246.11999999999998M242.92 823.9V830.3000000000001" stroke="#000" stroke-width="1.0" fill="none"/>
<path transform="translate(22.2,852.3) scale(0.95,0.94)" d="M8.1,-7.2 C7.3,-4.5 5.8,0.2 3.2,0.2 C1.2,0.2 0.5,-1.6 0.5,-3.4 C0.5,-5.4 1.6,-6.9 3.4,-6.9 C5.4,-6.9 6.0,-3.5 6.5,-1.6 C6.8,-0.4 7.3,0.3 8.2,-0.6" fill="none" stroke="#000" stroke-width="1.0" stroke-linecap="round" stroke-linejoin="round"/><text x="30.20" y="852.30" transform="rotate(0.03 30.20 852.30)" font-size="13.3" font-family='"Liberation Sans", sans-serif'>TLR1</text>
<path d="M125.86 848.7H132.26M129.06 845.5V851.9000000000001" stroke="#000" stroke-width="1.0" fill="none"/>
<path d="M264.19 848.7H270.59M267.39 845.5V851.9000000000001" stroke="#000" stroke-width="1.0" fill="none"/>
<path transform="translate(22.2,874.8) scale(0.95,0.94)" d="M8.1,-7.2 C7.3,-4.5 5.8,0.2 3.2,0.2 C1.2,0.2 0.5,-1.6 0.5,-3.4 C0.5,-5.4 1.6,-6.9 3.4,-6.9 C5.4,-6.9 6.0,-3.5 6.5,-1.6 C6.8,-0.4 7.3,0.3 8.2,-0.6" fill="none" stroke="#000" stroke-width="1.0" stroke-linecap="round" stroke-linejoin="round"/><text x="30.20" y="874.80" transform="rotate(0.03 30.20 874.80)" font-size="13.3" font-family='"Liberation Sans", sans-serif'>TLR6</text>
<path d="M150.24 871.6H156.64M153.44 868.4V874.8000000000001" stroke="#000" stroke-width="1.0" fill="none"/>
<path d="M288.66 871.6H295.06M291.86 868.4V874.8000000000001" stroke="#000" stroke-width="1.0" fill="none"/>
<path transform="translate(21.7,896.15) scale(0.95,0.94)" d="M8.1,-7.2 C7.3,-4.5 5.8,0.2 3.2,0.2 C1.2,0.2 0.5,-1.6 0.5,-3.4 C0.5,-5.4 1.6,-6.9 3.4,-6.9 C5.4,-6.9 6.0,-3.5 6.5,-1.6 C6.8,-0.4 7.3,0.3 8.2,-0.6" fill="none" stroke="#000" stroke-width="1.0" stroke-linecap="round" stroke-linejoin="round"/><text x="29.70" y="896.15" transform="rotate(0.03 29.70 896.15)" font-size="13.3" font-family='"Liberation Sans", sans-serif'>CD14</text>
<path d="M174.62 893.0H181.01999999999998M177.82 889.8V896.2" stroke="#000" stroke-width="1.0" fill="none"/>
<path d="M313.13 893.0H319.53M316.33 889.8V896.2" stroke="#000" stroke-width="1.0" fill="none"/>
<rect x="73.45" y="803.70" width="14.0" height="2.90" fill="#ffffff" stroke="#000" stroke-width="2.2"/>
<line x1="73.45" y1="805" x2="87.45" y2="805" stroke="#000" stroke-width="2.0"/>
<rect x="97.83" y="792.40" width="14.0" height="6.00" fill="#ffffff" stroke="#000" stroke-width="2.2"/>
<line x1="97.83" y1="795.4" x2="111.83" y2="795.4" stroke="#000" stroke-width="2.0"/>
<rect x="122.21000000000001" y="801.60" width="14.0" height="4.00" fill="#ffffff" stroke="#000" stroke-width="2.2"/>
<line x1="122.21000000000001" y1="803.5" x2="136.21" y2="803.5" stroke="#000" stroke-width="2.0"/>
<rect x="211.6" y="686.10" width="14.0" height="18.60" fill="#ff0000" stroke="#000" stroke-width="2.2"/>
<line x1="211.6" y1="692.6" x2="225.6" y2="692.6" stroke="#000" stroke-width="2.0"/>
<rect x="236.07" y="701.40" width="14.0" height="35.20" fill="#ff0000" stroke="#000" stroke-width="2.2"/>
<line x1="236.07" y1="717.8" x2="250.07" y2="717.8" stroke="#000" stroke-width="2.0"/>
<rect x="260.53999999999996" y="672.00" width="14.0" height="15.70" fill="#ff0000" stroke="#000" stroke-width="2.2"/>
<line x1="260.53999999999996" y1="679.7" x2="274.53999999999996" y2="679.7" stroke="#000" stroke-width="2.0"/>
<rect x="285.01" y="671.10" width="14.0" height="16.90" fill="#ff0000" stroke="#000" stroke-width="2.2"/>
<line x1="285.01" y1="678.2" x2="299.01" y2="678.2" stroke="#000" stroke-width="2.0"/>
<rect x="309.47999999999996" y="657.80" width="14.0" height="51.60" fill="#ff0000" stroke="#000" stroke-width="2.2"/>
<line x1="309.47999999999996" y1="678.3" x2="323.47999999999996" y2="678.3" stroke="#000" stroke-width="2.0"/>
<circle cx="77.4" cy="802.6" r="4.45" fill="#000"/>
<circle cx="83.5" cy="807.2" r="4.45" fill="#000"/>
<circle cx="101.9" cy="791.3" r="4.45" fill="#000"/>
<circle cx="108.4" cy="799.5" r="4.45" fill="#000"/>
<circle cx="126" cy="800.5" r="4.45" fill="#000"/>
<circle cx="133" cy="805.2" r="4.45" fill="#000"/>
<circle cx="149.9" cy="807.1" r="4.45" fill="#000"/>
<circle cx="157.7" cy="807.7" r="4.45" fill="#000"/>
<circle cx="175.1" cy="805.7" r="4.45" fill="#000"/>
<circle cx="182" cy="807.7" r="4.45" fill="#000"/>
<circle cx="215.5" cy="685" r="4.45" fill="#000"/>
<circle cx="222.25" cy="686.75" r="4.45" fill="#000"/>
<circle cx="218.5" cy="705.75" r="4.45" fill="#000"/>
<circle cx="243" cy="700" r="4.45" fill="#000"/>
<circle cx="243" cy="717" r="4.45" fill="#000"/>
<circle cx="243" cy="738" r="4.45" fill="#000"/>
<circle cx="267.5" cy="671.25" r="4.45" fill="#000"/>
<circle cx="264.5" cy="681.25" r="4.45" fill="#000"/>
<circle cx="271" cy="688.75" r="4.45" fill="#000"/>
<circle cx="288.5" cy="670.5" r="4.45" fill="#000"/>
<circle cx="295.25" cy="673.75" r="4.45" fill="#000"/>
<circle cx="292" cy="689.25" r="4.45" fill="#000"/>
<circle cx="313.25" cy="656.25" r="4.45" fill="#000"/>
<circle cx="320" cy="667.5" r="4.45" fill="#000"/>
<circle cx="316.5" cy="711" r="4.45" fill="#000"/>
</svg>
</body></html>
